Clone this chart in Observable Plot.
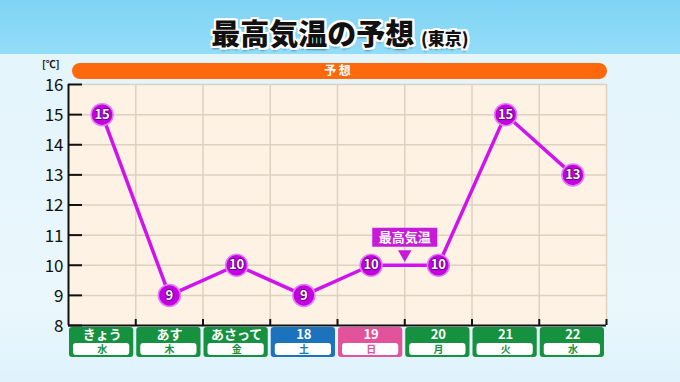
<!DOCTYPE html>
<html><head><meta charset="utf-8">
<script src="https://cdn.jsdelivr.net/npm/d3@7"></script>
<script src="https://cdn.jsdelivr.net/npm/@observablehq/plot@0.6"></script>
<style>
body{margin:0;}
#wrap{position:relative;width:680px;height:382px;overflow:hidden;
 background:linear-gradient(#e2f4fb,#eaf7fd 80%,#dff2fb);font-family:"Noto Sans CJK JP",sans-serif;}
#head{position:absolute;left:0;top:0;width:680px;height:54px;
 background:linear-gradient(#7fd3f4,#93ddf8);}
#title{position:absolute;left:0;top:14px;width:680px;text-align:center;font-weight:900;font-size:29px;line-height:36px;color:#111;
 text-shadow:-2px -2px 0 #fff,2px -2px 0 #fff,-2px 2px 0 #fff,2px 2px 0 #fff,0 2px 0 #fff,0 -2px 0 #fff,2px 0 0 #fff,-2px 0 0 #fff,0 3px 2px rgba(0,60,100,0.5);}
#title small{font-size:17px;font-weight:900;}
#chart{position:absolute;left:0;top:54px;}
</style></head>
<body><div id="wrap"><div id="head"></div><div id="title">最高気温の予想 <small>(東京)</small></div><div id="chart"></div></div>
<script>
const days = ["きょう","あす","あさって","18","19","20","21","22"];
const weekdays = ["水","木","金","土","日","月","火","水"];
const temps = [15, 9, 10, 9, 10, 10, 15, 13];
const yTicks = [8, 9, 10, 11, 12, 13, 14, 15, 16];
const bandLabel = "予 想";
const seriesLabel = "最高気温";
const unitLabel = "[℃]";

const yMin = 8, yMax = 16, n = days.length;
const plotW = 680 - 68 - 74, plotH = 328 - 30 - 57;
const py = p => p * (yMax - yMin) / plotH;   // pixels -> degrees
const pxx = p => p * n / plotW;               // pixels -> columns
const dayColor = w => w === "土" ? "#1b72bd" : w === "日" ? "#e3539b" : "#16913f";
const idx = d3.range(n);
const pts = idx.map(i => ({x: i + 0.5, y: temps[i]}));
const annX = 5, annY = 10;

const chart = Plot.plot({
  width: 680, height: 328,
  marginLeft: 68, marginRight: 74, marginTop: 30, marginBottom: 57,
  x: {domain: [0, n], axis: null},
  y: {domain: [yMin, yMax], axis: null},
  style: {fontFamily: "'Noto Sans CJK JP', sans-serif", background: "transparent", overflow: "visible"},
  marks: [
    Plot.frame({fill: "#fdf2e4", stroke: null}),
    Plot.ruleX(d3.range(1, n), {stroke: "#ddd2c0", strokeWidth: 1.5}),
    Plot.ruleY(yTicks.filter(t => t > yMin), {stroke: "#ddd2c0", strokeWidth: 1.5}),
    Plot.ruleX([n], {stroke: "#ddd2c0", strokeWidth: 1.5}),
    Plot.ruleY(yTicks, {x1: 0, x2: pxx(14), stroke: "#111", strokeWidth: 2}),
    Plot.ruleX([0], {y1: yMin, y2: yMax, stroke: "#111", strokeWidth: 2}),
    Plot.ruleY([yMin], {stroke: "#111", strokeWidth: 2}),
    Plot.ruleX(d3.range(1, n + 1), {y1: yMin, y2: yMin + py(6), stroke: "#111", strokeWidth: 2}),
    Plot.text(yTicks, {x: 0, y: d => d, dx: -5, dy: 1, textAnchor: "end", fontSize: 17, fill: "#111"}),
    Plot.text([unitLabel], {x: 0, y: yMax + py(20), dx: -9, textAnchor: "end", fontSize: 10, fontWeight: "bold", fill: "#111"}),
    // forecast band
    Plot.rect([0], {x1: 0, x2: n, y1: yMax + py(5), y2: yMax + py(21), insetLeft: 4, insetRight: -1, fill: "#ff690b", rx: 8}),
    Plot.text([bandLabel], {x: n / 2, y: yMax + py(13), fill: "white", fontSize: 12, fontWeight: "bold"}),
    // category boxes
    Plot.rect(idx, {x1: i => i, x2: i => i + 1, y1: yMin - py(32), y2: yMin - py(2), insetLeft: 1, insetRight: 2, fill: i => dayColor(weekdays[i]), rx: 3}),
    Plot.rect(idx, {x1: i => i, x2: i => i + 1, y1: yMin - py(30), y2: yMin - py(18), insetLeft: 5, insetRight: 6, fill: "white", rx: 3}),
    Plot.text(idx, {x: i => i + 0.5, y: yMin - py(9), text: i => days[i], fill: "white", fontSize: 13, fontWeight: "bold"}),
    Plot.text(idx, {x: i => i + 0.5, y: yMin - py(24.5), text: i => weekdays[i], fill: i => dayColor(weekdays[i]), fontSize: 10, fontWeight: "bold"}),
    // line + points
    Plot.line(pts, {x: "x", y: "y", stroke: "#cf12ee", strokeWidth: 3.5}),
    Plot.dot(pts, {x: "x", y: "y", r: 11, fill: "#c300e0", stroke: "#e27ef4", strokeWidth: 1.5}),
    Plot.text(pts, {x: "x", y: "y", text: "y", fill: "white", stroke: "#5a0070", strokeWidth: 1.5, paintOrder: "stroke", fontSize: 13, fontWeight: "bold"}),
    // series label
    Plot.dot([0], {x: annX, y: annY + py(11), symbol: "triangle", rotate: 180, r: 5, fill: "#c71bd9"}),
    Plot.rect([0], {x1: annX - pxx(32), x2: annX + pxx(33), y1: annY + py(18), y2: annY + py(37), fill: "#c71bd9"}),
    Plot.text([seriesLabel], {x: annX, y: annY + py(27.5), fill: "white", fontSize: 13, fontWeight: "bold"})
  ]
});
document.getElementById("chart").appendChild(chart);
</script></body></html>
